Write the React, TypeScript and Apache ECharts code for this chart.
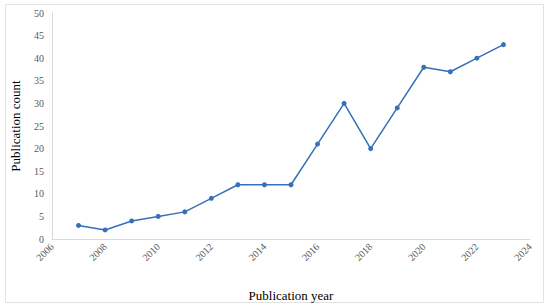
import React, { useEffect, useRef } from "react";
import * as echarts from "echarts";

const years = [2007, 2008, 2009, 2010, 2011, 2012, 2013, 2014, 2015, 2016, 2017, 2018, 2019, 2020, 2021, 2022, 2023];
const counts = [3, 2, 4, 5, 6, 9, 12, 12, 12, 21, 30, 20, 29, 38, 37, 40, 43];
const xTitle = "Publication year";
const yTitle = "Publication count";

export default function App() {
  const ref = useRef<HTMLDivElement>(null);
  useEffect(() => {
    if (!ref.current) return;
    const chart = echarts.init(ref.current, null, { renderer: "svg" });
    const font = "'Liberation Serif', 'Times New Roman', serif";
    chart.setOption({
      animation: false,
      backgroundColor: "#ffffff",
      graphic: [
        {
          type: "rect",
          shape: { x: 5.5, y: 4.5, width: 538, height: 298 },
          style: { fill: "none", stroke: "#e3e3e3", lineWidth: 1 },
          silent: true,
        },
      ],
      grid: { left: 52, right: 20, top: 13, bottom: 66, containLabel: false },
      xAxis: {
        type: "value",
        min: 2006,
        max: 2024,
        interval: 2,
        name: xTitle,
        nameLocation: "middle",
        nameGap: 50,
        nameTextStyle: { fontFamily: font, fontSize: 13, color: "#000" },
        axisLine: { show: true, lineStyle: { color: "#d9d9d9", width: 1 } },
        axisTick: { show: false },
        splitLine: { show: false },
        axisLabel: {
          rotate: 45,
          fontFamily: font,
          fontSize: 10,
          color: "#595959",
          margin: 6,
          formatter: (v: number) => String(v),
        },
      },
      yAxis: {
        type: "value",
        min: 0,
        max: 50,
        interval: 5,
        name: yTitle,
        nameLocation: "middle",
        nameGap: 30,
        nameTextStyle: { fontFamily: font, fontSize: 13, color: "#000" },
        axisLine: { show: true, lineStyle: { color: "#d9d9d9", width: 1 } },
        axisTick: { show: false },
        splitLine: { show: false },
        axisLabel: { fontFamily: font, fontSize: 10, color: "#595959", margin: 8 },
      },
      series: [
        {
          type: "line",
          data: years.map((y, i) => [y, counts[i]]),
          symbol: "circle",
          symbolSize: 5,
          lineStyle: { color: "#3570b8", width: 1.5 },
          itemStyle: { color: "#3570b8" },
        },
      ],
    });
    return () => chart.dispose();
  }, []);
  return (
    <div
      ref={ref}
      style={{ position: "fixed", left: 0, top: 0, width: 550, height: 307 }}
    />
  );
}
